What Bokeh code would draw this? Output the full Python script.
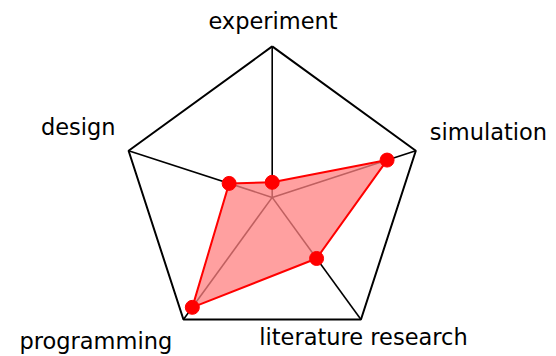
import numpy as np
from bokeh.plotting import figure
from bokeh.models import Range1d, ColumnDataSource
from bokeh.core.properties import value
from bokeh.embed import file_html
from bokeh.resources import INLINE

# ---- data ----
categories = ["experiment", "simulation", "literature research", "programming", "design"]
values = [0.1, 0.8, 0.5, 0.9, 0.3]
max_value = 1.0

# ---- geometry ----
n = len(categories)
angles = np.pi / 2 - 2 * np.pi * np.arange(n) / n
vx = max_value * np.cos(angles)
vy = max_value * np.sin(angles)
px = np.array(values) * np.cos(angles)
py = np.array(values) * np.sin(angles)

W, H = 556, 356
scale = 151.0          # pixels per unit
cx, cy = 271.7, 196.9  # centre in canvas pixels
p = figure(width=W, height=H, output_backend="svg", toolbar_location=None,
           x_range=Range1d(-cx / scale, (W - cx) / scale),
           y_range=Range1d(-(H - cy) / scale, cy / scale),
           min_border=0, outline_line_color=None)
p.axis.visible = False
p.grid.visible = False
p.background_fill_color = "white"
p.border_fill_color = "white"

# spokes
p.multi_line(xs=[[0, x] for x in vx], ys=[[0, y] for y in vy],
             line_color="black", line_width=1.6)
# outer pentagon
p.line(x=list(vx) + [vx[0]], y=list(vy) + [vy[0]], line_color="black", line_width=2)

# data polygon
p.patch(x=list(px), y=list(py), fill_color=(255, 128, 128), fill_alpha=0.75, line_color=None)
p.line(x=list(px) + [px[0]], y=list(py) + [py[0]], line_color="red", line_width=2)
p.scatter(x=px, y=py, size=14, fill_color="red", line_color="red")

# labels
src = ColumnDataSource(dict(
    x=vx, y=vy, text=categories,
    align=["center", "left", "center", "right", "right"],
    dx=[0.8, 14, 2.5, -11.2, -13],
    dy=[-25.4, -19, 17, 21, -24],
))
p.text(x="x", y="y", text="text", source=src, text_align="align",
       text_baseline="alphabetic", x_offset="dx", y_offset="dy",
       text_font=value("DejaVu Sans"), text_font_size="22.5px", text_color="black")

open("out.html", "w").write(file_html(p, INLINE))
